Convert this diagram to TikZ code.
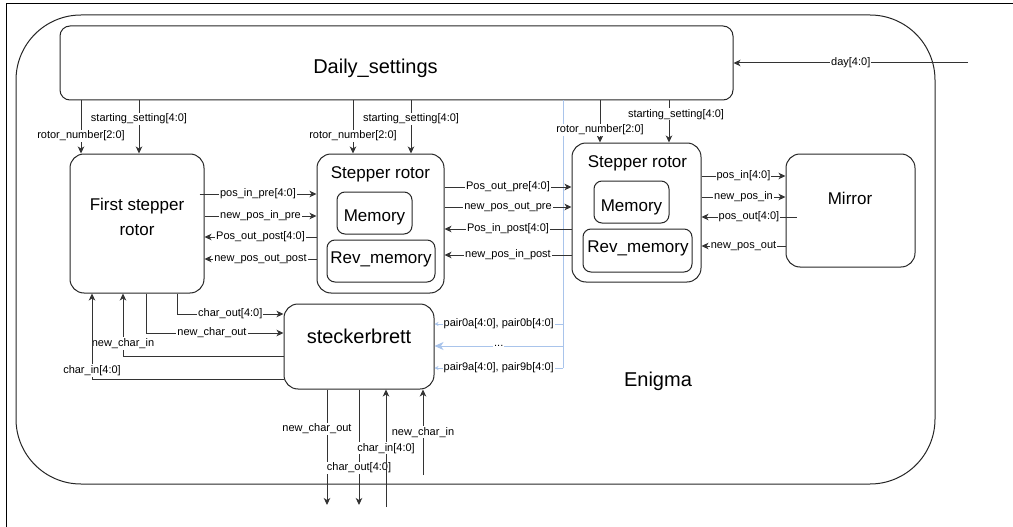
\documentclass[tikz,border=0pt]{standalone}
\usepackage{fontspec}
\setmainfont{Liberation Sans}
\usepackage{xcolor}
\usetikzlibrary{arrows.meta, positioning}
\definecolor{busblue}{RGB}{169,196,235}

\begin{document}
\begin{tikzpicture}[x=1pt, y=-1pt, >={Stealth[length=7pt,width=6.5pt,inset=2pt]}]
    \tikzstyle{block}=[shape=rectangle, rounded corners=14pt, draw=black!85, line width=1pt]
    \tikzstyle{subblock}=[shape=rectangle, rounded corners=8pt, draw=black!85, line width=1pt]
    \tikzstyle{big}=[font=\fontsize{17}{25}\selectfont, align=center, inner sep=0pt]
    \tikzstyle{titletext}=[font=\fontsize{20}{24}\selectfont, inner sep=0pt]
    \tikzstyle{lbl}=[font=\fontsize{11}{13}\selectfont, text=black, fill=white, inner sep=1pt]
    \tikzstyle{wire}=[color=black!80, line width=1pt]
    \tikzstyle{bus}=[color=busblue, line width=1pt]

    \useasboundingbox (0,0) rectangle (1013,527);
    \draw[line width=1pt] (6,527) -- (6,4) -- (1013,4);

    % enclosing module
    \node[block, rounded corners=65pt, minimum width=919pt, minimum height=469pt] (enigma) at (475.5,249.5) {};
    \node[titletext, anchor=base] (enigmaname) at (658,386) {Enigma};

    \node[block, rounded corners=10pt, minimum width=673pt, minimum height=74pt] (daily) at (396.5,63) {};
    \node[titletext, anchor=base] (dailyname) at (375.5,74) {Daily\_settings};

    % rotors
    \node[block, minimum width=134pt, minimum height=139pt] (first) at (137,223.5) {};
    \node[big] (firstname) at (137,217) {First stepper\\rotor};

    \node[block, minimum width=127pt, minimum height=139pt] (rotA) at (380.5,223.5) {};
    \node[big, anchor=base] (rotAname) at (380.5,178) {Stepper rotor};
    \node[subblock, minimum width=75pt, minimum height=42pt] (memA) at (374.5,213) {};
    \node[big, anchor=base] (memAname) at (374.5,221) {Memory};
    \node[subblock, minimum width=108pt, minimum height=42pt] (revA) at (381,261) {};
    \node[big, anchor=base] (revAname) at (381,263) {Rev\_memory};

    \node[block, minimum width=129pt, minimum height=139pt] (rotB) at (636.5,212.5) {};
    \node[big, anchor=base] (rotBname) at (637.5,167) {Stepper rotor};
    \node[subblock, minimum width=75pt, minimum height=42pt] (memB) at (631.5,202) {};
    \node[big, anchor=base] (memBname) at (631.5,211) {Memory};
    \node[subblock, minimum width=109pt, minimum height=43pt] (revB) at (637.5,250.5) {};
    \node[big, anchor=base] (revBname) at (638,252) {Rev\_memory};

    \node[block, minimum width=129pt, minimum height=113pt] (mirror) at (850.5,210.5) {};
    \node[big, anchor=base] (mirrorname) at (850,204) {Mirror};

    \node[block, minimum width=150pt, minimum height=85pt] (steck) at (359,346.5) {};
    \node[titletext, anchor=base] (steckname) at (359,343) {steckerbrett};

    \coordinate (dayin) at (968,63);
    \coordinate (busend) at (563,368);
    \coordinate (ncout) at (327,505);
    \coordinate (cout) at (359,505);
    \coordinate (cin) at (386,507);
    \coordinate (ncin) at (423,475);

    % plugboard pairs
    \draw[bus] (daily.south -| busend) -- (busend);
    \path[bus, -{Stealth[length=4pt,width=4pt]}]
    (busend |- 0,324) edge node[lbl] {pair0a[4:0], pair0b[4:0]} (steck.east |- 0,324)
    (busend |- 0,346) edge[-{Stealth[length=9pt,width=8pt,inset=2.5pt]}] node[lbl] {...} (steck.east |- 0,346)
    (busend) edge node[lbl] {pair9a[4:0], pair9b[4:0]} (steck.east |- busend);

    \path[wire, ->]
    (dayin) edge node[lbl] {day[4:0]} (daily.east |- dayin)

    (daily.south -| 81,0) edge node[lbl, pos=0.67] {rotor\_number[2:0]} (first.north -| 81,0)
    (daily.south -| 139,0) edge node[lbl, pos=0.35] {starting\_setting[4:0]} (first.north -| 139,0)
    (daily.south -| 353,0) edge node[lbl, pos=0.67] {rotor\_number[2:0]} (rotA.north -| 353,0)
    (daily.south -| 411,0) edge node[lbl, pos=0.35] {starting\_setting[4:0]} (rotA.north -| 411,0)
    (daily.south -| 600,0) edge node[lbl, pos=0.7] {rotor\_number[2:0]} (rotB.north -| 600,0)
    (daily.south -| 669,0) edge node[lbl, pos=0.33, xshift=7pt] {starting\_setting[4:0]} (rotB.north -| 669,0)

    ([xshift=-5pt]first.east |- 0,194) edge node[lbl] {pos\_in\_pre[4:0]} (rotA.west |- 0,194)
    (first.east |- 0,216) edge node[lbl] {new\_pos\_in\_pre} (rotA.west |- 0,216)
    (rotA.west |- 0,237) edge node[lbl] {Pos\_out\_post[4:0]} (first.east |- 0,237)
    (rotA.west |- 0,259) edge node[lbl] {new\_pos\_out\_post} (first.east |- 0,259)

    (rotA.east |- 0,187) edge node[lbl] {Pos\_out\_pre[4:0]} (rotB.west |- 0,187)
    (rotA.east |- 0,207) edge node[lbl] {new\_pos\_out\_pre} (rotB.west |- 0,207)
    (rotB.west |- 0,229) edge node[lbl] {Pos\_in\_post[4:0]} (rotA.east |- 0,229)
    (rotB.west |- 0,255) edge node[lbl] {new\_pos\_in\_post} (rotA.east |- 0,255)

    (rotB.east |- 0,176) edge node[lbl] {pos\_in[4:0]} (mirror.west |- 0,176)
    (rotB.east |- 0,197) edge node[lbl] {new\_pos\_in} (mirror.west |- 0,197)
    ([xshift=11pt]mirror.west |- 0,217) edge node[lbl] {pos\_out[4:0]} (rotB.east |- 0,217)
    (mirror.west |- 0,246) edge node[lbl] {new\_pos\_out} (rotB.east |- 0,246)

    (steck.south -| ncout) edge node[lbl, pos=0.34, xshift=-10pt] {new\_char\_out} (ncout)
    (steck.south -| cout) edge node[lbl, pos=0.68] {char\_out[4:0]} (cout)
    (cin) edge node[lbl] {char\_in[4:0]} (steck.south -| cin)
    (ncin) edge node[lbl] {new\_char\_in} (steck.south -| ncin);

    % first rotor <-> steckerbrett
    \draw[wire, ->] (first.south -| 177,0) |- node[lbl, pos=0.75] {char\_out[4:0]} (steck.west |- 0,314);
    \draw[wire, ->] (first.south -| 146,0) |- node[lbl, pos=0.74] {new\_char\_out} (steck.west |- 0,333);
    \draw[wire, ->] (steck.west |- 0,356) -| node[lbl, pos=0.6] {new\_char\_in} (first.south -| 123,0);
    \draw[wire, ->] (steck.west |- 0,379) -| node[lbl, pos=0.55] {char\_in[4:0]} (first.south -| 92,0);
\end{tikzpicture}
\end{document}
